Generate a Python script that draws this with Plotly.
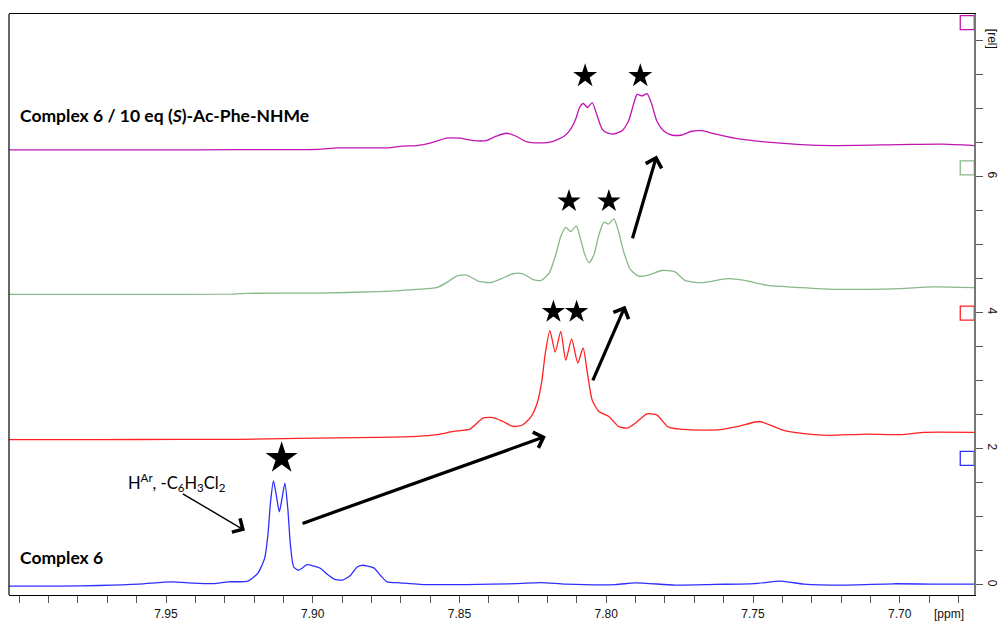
import plotly.graph_objects as go

# ---- chemical shift (ppm) and relative intensity traces ----
blue_ppm = [8.0035, 7.9864, 7.9728, 7.9593, 7.9481, 7.9407, 7.9339, 7.9288, 7.9221, 7.9187,
            7.9164, 7.9153, 7.9144, 7.9134, 7.9125, 7.9114, 7.9105, 7.9095, 7.9085, 7.9076,
            7.9065, 7.9049, 7.9035, 7.9020, 7.8995, 7.8973, 7.8950, 7.8927, 7.8899, 7.8871,
            7.8849, 7.8832, 7.8792, 7.8770, 7.8747, 7.8703, 7.8635, 7.8476, 7.8307, 7.8222,
            7.8138, 7.7969, 7.7901, 7.7766, 7.7630, 7.7495, 7.7405, 7.7326, 7.7190, 7.7021,
            7.6886, 7.6747]
blue_int = [-0.019, -0.02, -0.01, 0.01, 0.044, 0.025, 0.017, 0.044, 0.054, 0.171,
            0.389, 0.724, 1.210, 1.526, 1.337, 1.074, 1.264, 1.493, 1.118, 0.579,
            0.262, 0.214, 0.248, 0.297, 0.273, 0.239, 0.152, 0.083, 0.069, 0.141,
            0.262, 0.287, 0.248, 0.141, 0.044, 0.029, 0.006, 0.003, 0.017, 0.032,
            0.010, 0.003, 0.029, -0.004, 0.006, 0.017, 0.054, 0.010, -0.004, 0.015,
            0.010, 0.010]

red_ppm = [8.0035, 7.9728, 7.9458, 7.9255, 7.9052, 7.8781, 7.8646, 7.8578, 7.8521, 7.8465,
           7.8420, 7.8386, 7.8352, 7.8318, 7.8284, 7.8256, 7.8234, 7.8219, 7.8208, 7.8192,
           7.8174, 7.8155, 7.8138, 7.8118, 7.8097, 7.8079, 7.8064, 7.8048, 7.8025, 7.7991,
           7.7958, 7.7929, 7.7901, 7.7861, 7.7828, 7.7788, 7.7721, 7.7613, 7.7551, 7.7478,
           7.7393, 7.7292, 7.7235, 7.7111, 7.6998, 7.6920, 7.6747]
red_int = [-0.001, -0.001, 0.003, 0.003, 0.018, 0.033, 0.047, 0.072, 0.120, 0.154,
           0.314, 0.324, 0.266, 0.193, 0.218, 0.339, 0.557, 0.874, 1.262, 1.603,
           1.286, 1.592, 1.165, 1.480, 1.126, 1.349, 0.970, 0.582, 0.412, 0.339,
           0.193, 0.168, 0.241, 0.378, 0.364, 0.183, 0.145, 0.145, 0.193, 0.266,
           0.130, 0.072, 0.062, 0.081, 0.072, 0.106, 0.106]

green_ppm = [8.0035, 7.9796, 7.9278, 7.9221, 7.8984, 7.8781, 7.8646, 7.8578, 7.8544, 7.8510,
             7.8476, 7.8437, 7.8397, 7.8358, 7.8318, 7.8284, 7.8251, 7.8222, 7.8194, 7.8172,
             7.8155, 7.8138, 7.8121, 7.8102, 7.8087, 7.8073, 7.8059, 7.8042, 7.8025, 7.8008,
             7.7993, 7.7974, 7.7958, 7.7941, 7.7918, 7.7890, 7.7856, 7.7811, 7.7766, 7.7732,
             7.7675, 7.7585, 7.7529, 7.7450, 7.7337, 7.7224, 7.7111, 7.6998, 7.6886, 7.6747]
green_int = [0.001, 0.001, 0.004, 0.016, 0.019, 0.040, 0.074, 0.099, 0.172, 0.269,
             0.284, 0.196, 0.172, 0.230, 0.303, 0.303, 0.220, 0.205, 0.317, 0.584,
             0.852, 0.984, 0.925, 1.007, 0.803, 0.584, 0.463, 0.584, 0.876, 1.061,
             1.032, 1.109, 0.925, 0.634, 0.366, 0.269, 0.284, 0.351, 0.332, 0.205,
             0.172, 0.230, 0.205, 0.132, 0.099, 0.074, 0.074, 0.084, 0.109, 0.099]

magenta_ppm = [8.0035, 7.9728, 7.9390, 7.9153, 7.8984, 7.8916, 7.8747, 7.8696, 7.8646, 7.8600,
               7.8544, 7.8499, 7.8454, 7.8409, 7.8375, 7.8341, 7.8307, 7.8273, 7.8228, 7.8183,
               7.8144, 7.8121, 7.8104, 7.8091, 7.8078, 7.8064, 7.8048, 7.8031, 7.8014, 7.7997,
               7.7974, 7.7946, 7.7924, 7.7907, 7.7895, 7.7878, 7.7861, 7.7845, 7.7828, 7.7805,
               7.7777, 7.7743, 7.7709, 7.7675, 7.7630, 7.7563, 7.7450, 7.7337, 7.7224, 7.6998,
               7.6852, 7.6747]
magenta_int = [-0.010, -0.010, -0.010, -0.006, -0.003, 0.019, 0.019, 0.044, 0.053, 0.088,
               0.161, 0.161, 0.126, 0.126, 0.190, 0.234, 0.190, 0.111, 0.092, 0.111,
               0.190, 0.296, 0.442, 0.612, 0.671, 0.612, 0.685, 0.490, 0.296, 0.238,
               0.223, 0.271, 0.417, 0.661, 0.806, 0.782, 0.817, 0.661, 0.417, 0.271,
               0.208, 0.208, 0.263, 0.271, 0.223, 0.161, 0.102, 0.067, 0.053, 0.067,
               0.073, 0.053]

# stacking offsets of the four spectra
stack_offsets = [0.0, 2.135, 4.27, 6.405]
handle_level = 1.86  # height of each spectrum's handle box above its offset

# star labels on the tracked doublets
star_ppm = [7.9106, 7.8180, 7.8101, 7.8127, 7.7991, 7.8072, 7.7884]
star_int = [1.862, 4.012, 4.012, 5.640, 5.640, 7.481, 7.481]
star_size = [24, 17.5, 17.5, 17.5, 17.5, 18, 18]

# shift arrows: (tail ppm, tail int, head ppm, head int)
shift_arrows = [
    (7.9040, 0.895, 7.8206, 2.182),
    (7.8048, 2.984, 7.7935, 4.102),
    (7.7912, 5.073, 7.7828, 6.312),
]
label_arrow = (7.9448, 1.351, 7.9231, 0.797)

x_ticks = [7.95, 7.90, 7.85, 7.80, 7.75, 7.70]
x_tick_text = ["7.95", "7.90", "7.85", "7.80", "7.75", "7.70"]
y_ticks = [0, 2, 4, 6, 8]
y_tick_text = ["0", "2", "4", "6", "[rel]"]

colors = ["#2e2eff", "#ff2020", "#88b888", "#c014b2"]
spectra = [(blue_ppm, blue_int), (red_ppm, red_int),
           (green_ppm, green_int), (magenta_ppm, magenta_int)]

X_RANGE = [8.0035, 7.6747]
Y_RANGE = [-0.150, 8.392]

fig = go.Figure()

for (ppm, inten), off, col in zip(spectra, stack_offsets, colors):
    fig.add_trace(go.Scatter(
        x=ppm, y=[v + off for v in inten], mode="lines",
        line=dict(color=col, width=1.3, shape="spline", smoothing=0.6),
        hoverinfo="skip", showlegend=False))

# handle boxes at the right edge
fig.add_trace(go.Scatter(
    x=[7.6770] * 4, y=[off + handle_level for off in stack_offsets], mode="markers",
    marker=dict(symbol="square-open", size=14, color=colors, opacity=1,
                line=dict(width=1.3, color=colors)),
    cliponaxis=False, hoverinfo="skip", showlegend=False))

fig.add_trace(go.Scatter(
    x=star_ppm, y=star_int, mode="markers",
    marker=dict(symbol="star", size=star_size, color="#000000", opacity=1,
                line=dict(width=0)),
    cliponaxis=False, hoverinfo="skip", showlegend=False))

annotations = []
for tx, ty, hx, hy in shift_arrows:
    annotations.append(dict(
        x=hx, y=hy, ax=tx, ay=ty, xref="x", yref="y", axref="x", ayref="y",
        text="", showarrow=True, arrowhead=4, arrowsize=1.0, arrowwidth=3.2,
        arrowcolor="black", standoff=0, startstandoff=0))
tx, ty, hx, hy = label_arrow
annotations.append(dict(
    x=hx, y=hy, ax=tx, ay=ty, xref="x", yref="y", axref="x", ayref="y",
    text="", showarrow=True, arrowhead=4, arrowsize=2.2, arrowwidth=1.4,
    arrowcolor="black", standoff=0, startstandoff=0))

label_font = dict(family="Lato, 'Open Sans', sans-serif", size=17.5, color="black")
annotations += [
    dict(x=8.0003, y=6.905, xref="x", yref="y", xanchor="left", yanchor="middle",
         text="<b>Complex 6 / 10 eq (<i>S</i>)-Ac-Phe-NHMe</b>", showarrow=False, font=label_font),
    dict(x=8.0003, y=0.404, xref="x", yref="y", xanchor="left", yanchor="middle",
         text="<b>Complex 6</b>", showarrow=False, font=label_font),
    dict(x=7.9464, y=1.50, xref="x", yref="y", xanchor="center", yanchor="middle",
         text="H<sup>Ar</sup>, -C<sub>6</sub>H<sub>3</sub>Cl<sub>2</sub>", showarrow=False,
         font=dict(family="Lato, 'Open Sans', sans-serif", size=16.5, color="black")),
    dict(x=0.974, y=-0.017, xref="paper", yref="paper", xanchor="center", yanchor="top",
         text="[ppm]", showarrow=False,
         font=dict(family="Liberation Sans, Arial, sans-serif", size=12, color="#111")),
]

tick_font = dict(family="Liberation Sans, Arial, sans-serif", size=12, color="#111")

fig.update_layout(
    width=1008, height=630,
    margin=dict(l=9, r=27, t=14, b=30),
    paper_bgcolor="white", plot_bgcolor="white",
    annotations=annotations,
    shapes=[dict(type="line", xref="paper", yref="paper", x0=0, x1=0, y0=0, y1=1,
                 line=dict(color="black", width=1.2))],
    xaxis=dict(range=X_RANGE, showgrid=False, zeroline=False,
               showline=True, linecolor="black", linewidth=1.2, mirror=True,
               tickvals=x_ticks, ticktext=x_tick_text, ticks="outside", ticklen=7,
               tickcolor="#555", tickwidth=1, tickfont=tick_font,
               minor=dict(dtick=0.01, tick0=7.70, ticks="outside", ticklen=7,
                          tickcolor="#555", tickwidth=1, showgrid=False)),
    yaxis=dict(range=Y_RANGE, side="right", showgrid=False, zeroline=False,
               showline=True, linecolor="#777", linewidth=1.5,
               tickvals=y_ticks, ticktext=y_tick_text, ticks="outside", ticklen=7,
               tickcolor="#555", tickwidth=1, tickangle=90, tickfont=tick_font,
               minor=dict(dtick=0.5, tick0=0, ticks="outside", ticklen=7,
                          tickcolor="#555", tickwidth=1, showgrid=False)),
)

fig.write_html("out.html")
